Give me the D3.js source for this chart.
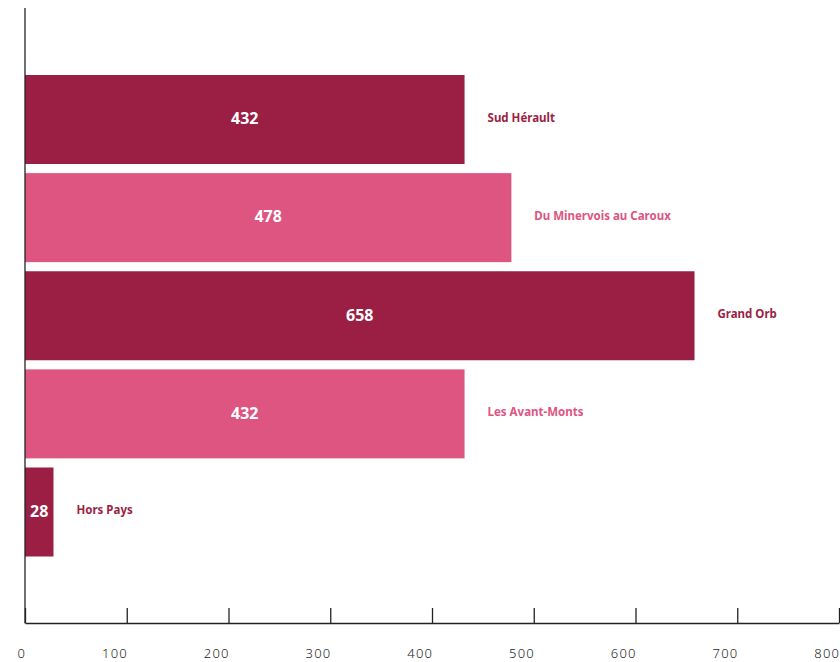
<!DOCTYPE html>
<html>
<head>
<meta charset="utf-8">
<script src="https://cdn.jsdelivr.net/npm/d3@7"></script>
<style>
  html, body { margin: 0; padding: 0; background: #fff; }
  svg { display: block; }
  .tick text { font-family: "Noto Sans", sans-serif; font-weight: 300; font-size: 13px; letter-spacing: 1.2px; fill: #222; }
</style>
</head>
<body>
<svg id="chart" width="840" height="662"></svg>
<script>
// Effectifs par territoire
const categories = ["Sud Hérault", "Du Minervois au Caroux", "Grand Orb", "Les Avant-Monts", "Hors Pays"];
const values = [432, 478, 658, 432, 28];
const barColors = ["#9b1f44", "#dd5580", "#9b1f44", "#dd5580", "#9b1f44"];
const tickValues = [0, 100, 200, 300, 400, 500, 600, 700, 800];

const svg = d3.select("#chart");
const x0 = 25, x1 = 839, axisY = 623;

const x = d3.scaleLinear().domain([0, 800]).range([x0, x1]);
const y = d3.scaleBand().domain(categories).range([75, 556.5]).paddingInner(0.093).paddingOuter(0);

const rows = categories.map((c, i) => ({ name: c, value: values[i], color: barColors[i] }));

// Bars
svg.append("g").selectAll("rect").data(rows).join("rect")
  .attr("x", x(0))
  .attr("y", d => y(d.name))
  .attr("width", d => x(d.value) - x(0))
  .attr("height", y.bandwidth())
  .attr("fill", d => d.color);

// Values inside the bars
svg.append("g").selectAll("text").data(rows).join("text")
  .attr("x", d => (x(0) + x(d.value)) / 2)
  .attr("y", d => y(d.name) + y.bandwidth() / 2 - 1)
  .attr("dy", "0.36em")
  .attr("text-anchor", "middle")
  .attr("font-family", "'Noto Sans', sans-serif")
  .attr("font-weight", 700)
  .attr("font-size", 16)
  .attr("fill", "#fff")
  .text(d => d.value);

// Territory names beside the bars
svg.append("g").selectAll("text").data(rows).join("text")
  .attr("x", d => x(d.value) + 23)
  .attr("y", d => y(d.name) + y.bandwidth() / 2 - 2)
  .attr("dy", "0.36em")
  .attr("font-family", "'Noto Sans', sans-serif")
  .attr("font-weight", 700)
  .attr("font-size", 11.5)
  .attr("fill", d => d.color)
  .text(d => d.name);

// Bottom axis, ticks pointing up
const xAxis = d3.axisBottom(x)
  .tickValues(tickValues)
  .tickSizeInner(-15)
  .tickSizeOuter(0)
  .tickPadding(26);

const gx = svg.append("g")
  .attr("transform", `translate(0,${axisY})`)
  .call(xAxis);
gx.select(".domain").attr("stroke", "#222").attr("stroke-width", 1.3);
gx.selectAll(".tick line").attr("stroke", "#222").attr("stroke-width", 1.3);
gx.selectAll(".tick text").attr("text-anchor", "end").attr("dx", "0.05em");

// Left axis line
svg.append("line")
  .attr("x1", x0).attr("x2", x0)
  .attr("y1", 8).attr("y2", axisY + 0.5)
  .attr("stroke", "#222").attr("stroke-width", 1.3);
</script>
</body>
</html>
